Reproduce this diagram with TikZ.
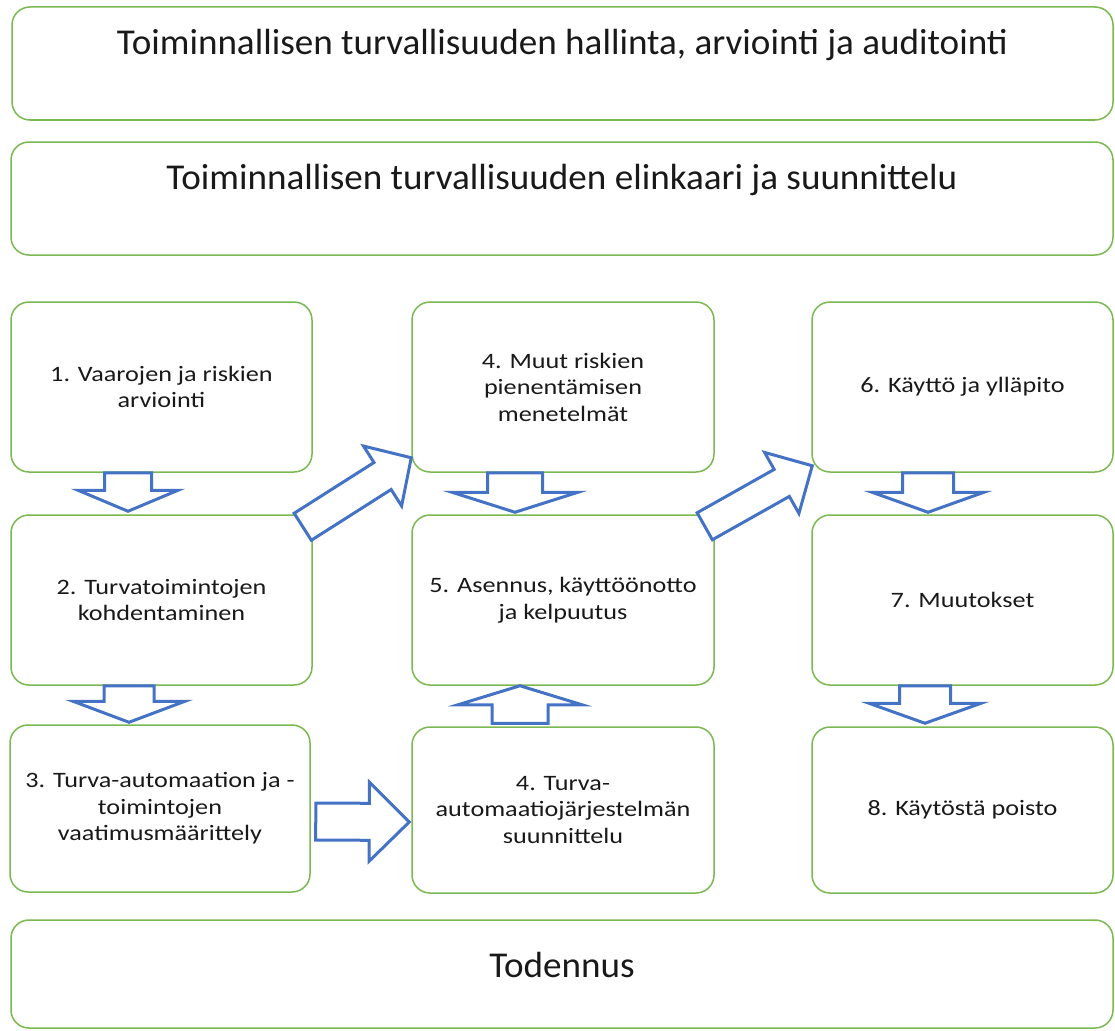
\documentclass[tikz,border=0pt]{standalone}
\usepackage{fontspec}
\setmainfont{Carlito}
\newfontfamily\boxfont{Carlito}[FakeStretch=1.19]
\newfontfamily\headfont{Carlito}[FakeStretch=1.02]
\usetikzlibrary{calc}

\definecolor{boxgreen}{RGB}{122,184,82}
\definecolor{arrowblue}{RGB}{68,114,196}
\definecolor{textdark}{RGB}{25,25,25}

% Hollow block arrow from #1 (tail centre) to #2 (tip):
% #3 half shaft width, #4 half head width, #5 head length
\newcommand\blockarrow[5]{%
  \draw[blockarrowline]
    ($(#1)!#3!90:(#2)$) --
    ($(#2)!#5!(#1)!#3!90:(#2)$) --
    ($(#2)!#5!(#1)!#4!90:(#2)$) --
    (#2) --
    ($(#2)!#5!(#1)!#4!-90:(#2)$) --
    ($(#2)!#5!(#1)!#3!-90:(#2)$) --
    ($(#1)!#3!-90:(#2)$) -- cycle;}

\tikzset{
  framebox/.style={draw=boxgreen, line width=1.5pt, rounded corners=18pt,
    inner sep=0pt},
  widebox/.style={framebox, minimum width=1102pt, minimum height=113pt},
  stepbox/.style={framebox, minimum width=301pt, minimum height=170pt,
    align=center, text=textdark,
    font=\boxfont\fontsize{22}{26.5}\selectfont},
  titletext/.style={anchor=base, inner sep=0pt, text=textdark,
    font=\headfont\fontsize{36.4}{43}\selectfont},
  blockarrowline/.style={draw=arrowblue, fill=white, line width=3pt,
    line join=miter},
}

\begin{document}
\begin{tikzpicture}[x=1pt, y=-1pt]
\useasboundingbox (0,0) rectangle (1115,1030);

% wide frames with their headings
\node[widebox, minimum width=1101pt] (mgmt) at (562.5,63.5) {};
\node[titletext] (mgmtT) at ([yshift=-48pt]mgmt.north)
  {Toiminnallisen turvallisuuden hallinta, arviointi ja auditointi};

\node[widebox] (life) at (562,198.5) {};
\node[titletext] (lifeT) at ([yshift=-48pt]life.north)
  {Toiminnallisen turvallisuuden elinkaari ja suunnittelu};

\node[widebox, minimum height=108pt] (verif) at (562,974) {};
\node[titletext] (verifT) at ([yshift=-58pt]verif.north) {Todennus};

% lifecycle steps
\node[stepbox] (b1) at (161.5,387) {1. Vaarojen ja riskien\\arviointi};
\node[stepbox] (b2) at (161.5,600) {2. Turvatoimintojen\\kohdentaminen};
\node[stepbox, minimum width=300pt, minimum height=167pt] (b3) at (160,808.5)
  {3. Turva-automaation ja -\\toimintojen\\vaatimusmäärittely};
\node[stepbox, minimum width=302pt] (b4a) at (563,387)
  {4. Muut riskien\\pienentämisen\\menetelmät};
\node[stepbox, minimum width=302pt] (b5) at (563,600)
  {5. Asennus, käyttöönotto\\ja kelpuutus};
\node[stepbox, minimum width=302pt, minimum height=166pt] (b4b) at (563,810)
  {4. Turva-\\automaatiojärjestelmän\\suunnittelu};
\node[stepbox] (b6) at (962.5,387) {6. Käyttö ja ylläpito};
\node[stepbox] (b7) at (962.5,600) {7. Muutokset};
\node[stepbox, minimum height=166pt] (b8) at (962.5,810) {8. Käytöstä poisto};

% arrow ends
\coordinate (s12) at ([xshift=-33.5pt]b1.south);
\coordinate (t12) at ([xshift=-33.5pt, yshift=3pt]b2.north);
\coordinate (s23) at ([xshift=-32.5pt]b2.south);
\coordinate (t23) at ([xshift=-31pt, yshift=2pt]b3.north);
\coordinate (s34) at ([xshift=5pt, yshift=-13pt]b3.east);
\coordinate (t34) at ([xshift=-2pt, yshift=-12pt]b4b.west);
\coordinate (s2a) at ([xshift=-10pt, yshift=-12.5pt]b2.north east);
\coordinate (t2a) at ([yshift=15pt]b4a.south west);
\coordinate (sa5) at ([xshift=-48pt]b4a.south);
\coordinate (ta5) at ([xshift=-48pt, yshift=2pt]b5.north);
\coordinate (sb5) at ([xshift=-43pt, yshift=3pt]b4b.north);
\coordinate (tb5) at ([xshift=-43pt]b5.south);
\coordinate (s56) at ([xshift=-10pt, yshift=-12pt]b5.north east);
\coordinate (t56) at ([xshift=1pt, yshift=7pt]b6.south west);
\coordinate (s67) at ([xshift=-34.5pt]b6.south);
\coordinate (t67) at ([xshift=-34.5pt, yshift=2pt]b7.north);
\coordinate (s78) at ([xshift=-37.5pt]b7.south);
\coordinate (t78) at ([xshift=-37.5pt, yshift=3pt]b8.north);

% flow arrows
\blockarrow{s12}{t12}{23.5pt}{50pt}{21pt}
\blockarrow{s23}{t23}{25pt}{56pt}{21pt}
\blockarrow{s34}{t34}{18.5pt}{39.5pt}{40pt}
\blockarrow{s2a}{t2a}{16pt}{35.5pt}{34pt}
\blockarrow{sa5}{ta5}{27.5pt}{63pt}{20pt}
\blockarrow{sb5}{tb5}{28pt}{62pt}{19pt}
\blockarrow{s56}{t56}{15.5pt}{35pt}{35pt}
\blockarrow{s67}{t67}{25.5pt}{56pt}{20pt}
\blockarrow{s78}{t78}{25.5pt}{56pt}{20pt}

\end{tikzpicture}
\end{document}
